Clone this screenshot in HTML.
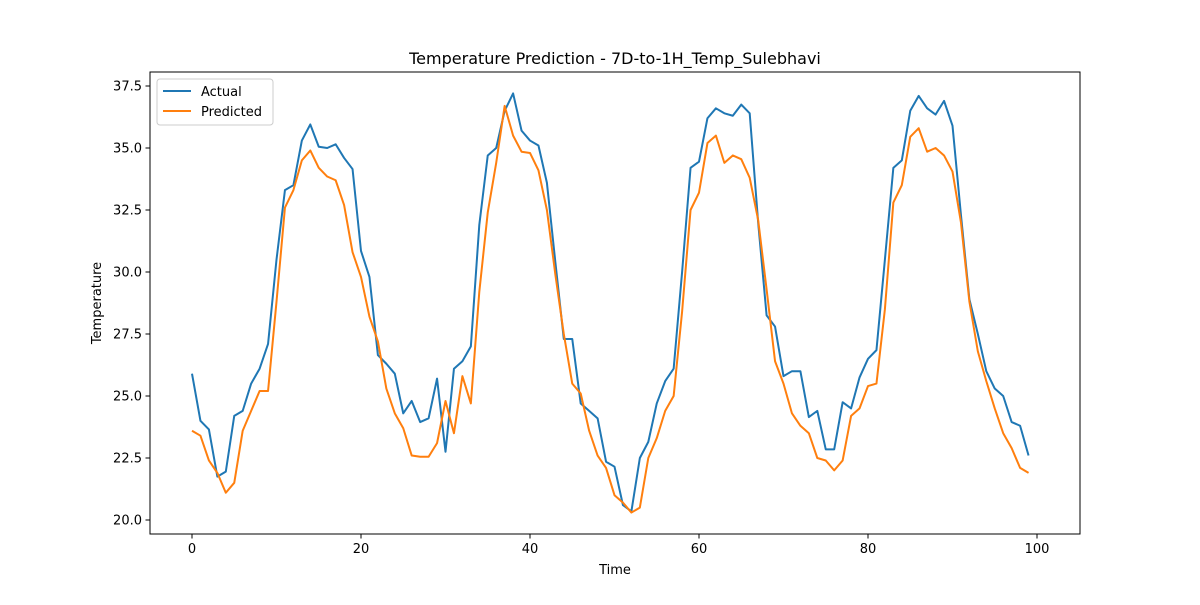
<!DOCTYPE html>
<html><head><meta charset="utf-8"><style>
body{margin:0;background:#fff;}
svg text{font-family:"DejaVu Sans","Liberation Sans",sans-serif;fill:#000;}
</style></head><body>
<svg id="chart" width="1200" height="600" xmlns="http://www.w3.org/2000/svg">
<rect width="1200" height="600" fill="#fff"/>
<text x="615" y="64" font-size="16" text-anchor="middle">Temperature Prediction - 7D-to-1H_Temp_Sulebhavi</text>
<text x="615" y="574" font-size="13" text-anchor="middle">Time</text>
<text x="0" y="0" font-size="13" text-anchor="middle" transform="translate(101,303) rotate(-90)">Temperature</text>
<g id="ticks"></g>
<g id="lines"></g>
<rect x="150" y="72" width="930" height="462" fill="none" stroke="#000" stroke-width="1"/>
<g>
<rect x="157" y="79" width="116" height="46" rx="3" fill="#fff" stroke="#ccc"/>
<line x1="163" y1="91" x2="191" y2="91" stroke="#1f77b4" stroke-width="2"/>
<text x="201" y="96" font-size="13">Actual</text>
<line x1="163" y1="111" x2="191" y2="111" stroke="#ff7f0e" stroke-width="2"/>
<text x="201" y="116" font-size="13">Predicted</text>
</g>
</svg>
<script>
const actual=[25.9,24.0,23.65,21.75,21.95,24.2,24.4,25.5,26.1,27.1,30.5,33.3,33.5,35.3,35.95,35.05,35.0,35.15,34.6,34.15,30.85,29.8,26.65,26.3,25.9,24.3,24.8,23.95,24.1,25.7,22.75,26.1,26.4,27.0,31.9,34.7,35.0,36.5,37.2,35.7,35.3,35.1,33.6,30.4,27.3,27.3,24.7,24.4,24.1,22.35,22.15,20.6,20.35,22.5,23.15,24.7,25.6,26.1,30.0,34.2,34.45,36.2,36.6,36.4,36.3,36.75,36.4,32.0,28.25,27.8,25.8,26.0,26.0,24.15,24.4,22.85,22.85,24.75,24.5,25.75,26.5,26.85,30.5,34.2,34.5,36.5,37.1,36.6,36.35,36.9,35.9,32.3,28.9,27.5,26.0,25.3,25.0,23.95,23.8,22.6];
const predicted=[23.6,23.4,22.4,21.9,21.1,21.5,23.6,24.4,25.2,25.2,28.8,32.6,33.3,34.5,34.9,34.2,33.85,33.7,32.7,30.8,29.8,28.2,27.2,25.3,24.3,23.7,22.6,22.55,22.55,23.1,24.8,23.5,25.8,24.7,29.2,32.4,34.4,36.7,35.5,34.85,34.8,34.1,32.5,29.9,27.5,25.5,25.1,23.6,22.6,22.1,21.0,20.7,20.3,20.5,22.5,23.3,24.4,25.0,28.4,32.5,33.2,35.2,35.5,34.4,34.7,34.55,33.8,32.1,29.3,26.4,25.5,24.3,23.8,23.5,22.5,22.4,22.0,22.4,24.2,24.5,25.4,25.5,28.5,32.8,33.5,35.45,35.8,34.85,35.0,34.7,34.05,32.0,28.8,26.8,25.6,24.5,23.5,22.9,22.1,21.9];
const xTicks=[0,20,40,60,80,100];
const yTicks=[20.0,22.5,25.0,27.5,30.0,32.5,35.0,37.5];
const NS="http://www.w3.org/2000/svg";
const xs=v=>192+v*8.45;
const ys=v=>520-(v-20)*24.8;
const tg=document.getElementById('ticks');
xTicks.forEach(t=>{
  const l=document.createElementNS(NS,'line');
  l.setAttribute('x1',xs(t));l.setAttribute('x2',xs(t));l.setAttribute('y1',534);l.setAttribute('y2',538.5);l.setAttribute('stroke','#000');
  
  
  tg.appendChild(l);
  const tx=document.createElementNS(NS,'text');
  tx.setAttribute('x',xs(t));tx.setAttribute('y',553);tx.setAttribute('font-size','13');tx.setAttribute('text-anchor','middle');tx.textContent=t;
  
  
  tg.appendChild(tx);
});
yTicks.forEach(t=>{
  const l=document.createElementNS(NS,'line');
  l.setAttribute('x1',145.5);l.setAttribute('x2',150);l.setAttribute('y1',ys(t));l.setAttribute('y2',ys(t));l.setAttribute('stroke','#000');
  
  
  tg.appendChild(l);
  const tx=document.createElementNS(NS,'text');
  tx.setAttribute('x',142);tx.setAttribute('y',ys(t)+4.5);tx.setAttribute('font-size','13');tx.setAttribute('text-anchor','end');tx.textContent=t.toFixed(1);
  
  
  tg.appendChild(tx);
});
const lg=document.getElementById('lines');
function draw(arr,color,name){
  const p=document.createElementNS(NS,'polyline');
  p.setAttribute('points',arr.map((v,i)=>xs(i)+','+ys(v)).join(' '));
  p.setAttribute('fill','none');p.setAttribute('stroke',color);p.setAttribute('stroke-width','2');p.setAttribute('stroke-linejoin','round');
  
  
  lg.appendChild(p);
}
draw(actual,'#1f77b4','actual-line');
draw(predicted,'#ff7f0e','predicted-line');
</script>
</body></html>
